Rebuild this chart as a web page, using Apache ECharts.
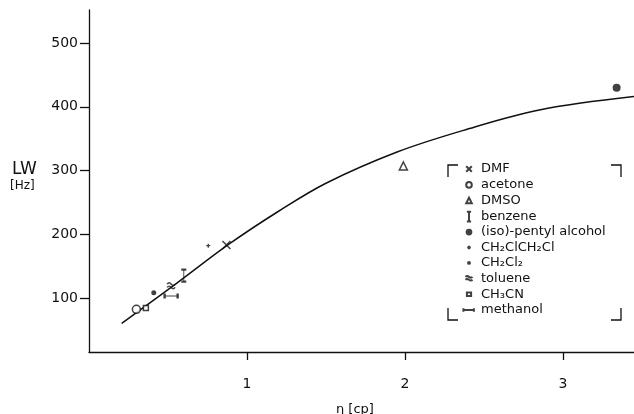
<!DOCTYPE html>
<html>
<head>
<meta charset="utf-8">
<script src="https://cdn.jsdelivr.net/npm/echarts@6/dist/echarts.min.js"></script>
<style>html,body{margin:0;padding:0;background:#fff}#c{width:634px;height:414px}</style>
</head>
<body>
<div id="c"></div>
<script>
// ---- data ----
const xTicks = [1, 2, 3];
const yTicks = [100, 200, 300, 400, 500];
const solvents = ['DMF', 'acetone', 'DMSO', 'benzene', '(iso)-pentyl alcohol', 'CH₂ClCH₂Cl', 'CH₂Cl₂', 'toluene', 'CH₃CN', 'methanol'];
const viscosity = [0.87, 0.30, 1.99, 0.60, 3.34, 0.755, 0.41, 0.52, 0.36, 0.52];
const linewidth = [183, 82, 307, 135, 430, 182, 108, 119, 84, 103];
const fitX = [0.207, 0.55, 0.89, 1.2, 1.5, 1.95, 2.37, 2.85, 3.45];
const fitY = [60, 122, 185, 236, 280, 329, 363, 395, 416];

// ---- styles ----
const FONT = 'DejaVu Sans';
const INK = '#111';
const stroke = (w) => ({ color: 'rgba(0,0,0,0)', borderColor: INK, borderWidth: w });
const open = (w) => ({ color: '#fff', borderColor: INK, borderWidth: w });
const fill = { color: INK, borderColor: INK, borderWidth: 0 };
const BOX = 'M0,0M20,20'; // padding box for legend icons (20 units -> 14 px)
const markers = [
  { symbol: 'path://M0,0L10,10M10,0L0,10', size: [8, 8], style: stroke(1.5),
    icon: BOX + 'M6,6L14,14M14,6L6,14' },
  { symbol: 'circle', size: 8, style: open(1.5),
    icon: BOX + 'M6,10a4,4 0 1,0 8,0a4,4 0 1,0 -8,0Z' },
  { symbol: 'triangle', size: [8, 8], style: open(1.5),
    icon: BOX + 'M10,5.5L14,13.5L6,13.5Z' },
  { symbol: 'path://M0,0L6,0M3,0L3,14M0,14L6,14', size: [5, 12], style: stroke(1.4),
    icon: BOX + 'M7,3L13,3M10,3L10,17M7,17L13,17' },
  { symbol: 'circle', size: 8, style: fill,
    icon: BOX + 'M5.2,10a4.8,4.8 0 1,0 9.6,0a4.8,4.8 0 1,0 -9.6,0Z' },
  { symbol: 'path://M0,3L6,3M3,0L3,6', size: [4, 4], style: stroke(1.3),
    icon: BOX + 'M7.5,10L12.5,10M10,7.5L10,12.5' },
  { symbol: 'circle', size: 5, style: fill,
    icon: BOX + 'M7.2,10a2.8,2.8 0 1,0 5.6,0a2.8,2.8 0 1,0 -5.6,0Z' },
  { symbol: 'path://M0,2C2,0 3,0 5,2C7,4 8,4 10,2M0,6C2,4 3,4 5,6C7,8 8,8 10,6', size: [8, 6], style: stroke(1.5),
    icon: BOX + 'M5,8C6.5,6.5 8,6.5 10,8C12,9.5 13.5,9.5 15,8M5,12C6.5,10.5 8,10.5 10,12C12,13.5 13.5,13.5 15,12' },
  { symbol: 'rect', size: 5, style: open(1.5),
    icon: BOX + 'M7,7.5L13,7.5L13,12.5L7,12.5Z' },
  { symbol: 'path://M0,0L0,6M0,3L14,3M14,0L14,6', size: [13, 5], style: stroke(1.5),
    icon: BOX + 'M2,7.5L2,12.5M2,10L17,10M17,7.5L17,12.5' }
];

const series = solvents.map((name, i) => ({
  type: 'scatter',
  name: name,
  data: [[viscosity[i], linewidth[i]]],
  symbol: markers[i].symbol,
  symbolSize: markers[i].size,
  itemStyle: markers[i].style,
  z: 3
}));
series.push({
  type: 'line',
  name: 'fit',
  data: fitX.map((x, i) => [x, fitY[i]]),
  smooth: 0.35,
  showSymbol: false,
  lineStyle: { color: INK, width: 1.5 },
  z: 2
});

const chart = echarts.init(document.getElementById('c'), null, { renderer: 'canvas' });
chart.setOption({
  animation: false,
  backgroundColor: '#fff',
  grid: { left: 89, right: 0, top: 10, bottom: 62 },
  xAxis: {
    type: 'value', min: 0, max: 3.45,
    splitLine: { show: false },
    axisLine: { lineStyle: { color: INK, width: 1.3 } },
    axisTick: { show: true, length: 8, customValues: xTicks, lineStyle: { color: INK, width: 1.3 } },
    axisLabel: { color: INK, fontFamily: FONT, fontSize: 14, margin: 25, customValues: xTicks }
  },
  yAxis: {
    type: 'value', min: 15, max: 552,
    splitLine: { show: false },
    axisLine: { lineStyle: { color: INK, width: 1.3 } },
    axisTick: { show: true, length: 9, customValues: yTicks, lineStyle: { color: INK, width: 1.3 } },
    axisLabel: { color: INK, fontFamily: FONT, fontSize: 14, margin: 11, customValues: yTicks }
  },
  legend: {
    data: solvents.map((name, i) => ({ name: name, icon: 'path://' + markers[i].icon })),
    orient: 'vertical',
    left: 461, top: 161,
    padding: 0,
    itemWidth: 14, itemHeight: 14, itemGap: -0.1,
    selectedMode: false,
    textStyle: { color: INK, fontFamily: FONT, fontSize: 13, lineHeight: 15 }
  },
  graphic: [
    { type: 'text', left: 12, top: 161, style: { text: 'LW', fill: INK, font: '17px "DejaVu Sans"' } },
    { type: 'text', left: 10, top: 180, style: { text: '[Hz]', fill: INK, font: '12px "DejaVu Sans"' } },
    { type: 'text', left: 336, top: 403, style: { text: 'η [cp]', fill: INK, font: '13px "DejaVu Sans"' } },
    { type: 'polyline', shape: { points: [[448, 177], [448, 165], [458, 165]] }, style: { stroke: INK, lineWidth: 1.3, fill: null } },
    { type: 'polyline', shape: { points: [[611, 165], [621, 165], [621, 177]] }, style: { stroke: INK, lineWidth: 1.3, fill: null } },
    { type: 'polyline', shape: { points: [[448, 308], [448, 320], [458, 320]] }, style: { stroke: INK, lineWidth: 1.3, fill: null } },
    { type: 'polyline', shape: { points: [[611, 320], [621, 320], [621, 308]] }, style: { stroke: INK, lineWidth: 1.3, fill: null } }
  ],
  series: series
});
</script>
</body>
</html>
